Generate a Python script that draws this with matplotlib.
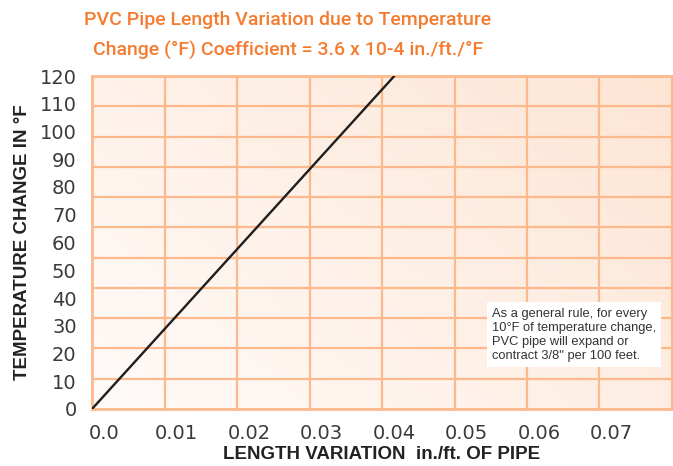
import numpy as np
import matplotlib
matplotlib.use("Agg")
import matplotlib.pyplot as plt
import matplotlib.transforms as mtransforms
from matplotlib.colors import LinearSegmentedColormap

# values
length_var = [0.0, 0.0417]     # in./ft.
temp_change = [0, 120]          # deg F
x_ticks = [0.0, 0.01, 0.02, 0.03, 0.04, 0.05, 0.06, 0.07]
x_labels = ["0.0", "0.01", "0.02", "0.03", "0.04", "0.05", "0.06", "0.07"]
y_ticks = list(range(0, 121, 10))

orange = "#F47C30"
grid_col = "#FDB88C"

fig = plt.figure(figsize=(6.73, 4.66), dpi=100)
ax = fig.add_axes([92/673, 1 - 409/466, 580/673, 333/466])
ax.set_xlim(0, 0.08)
ax.set_ylim(0, 120)

# peach gradient background, lighter bottom-left to darker top-right
cmap = LinearSegmentedColormap.from_list("peach", ["#FFFBF9", "#FDE5D4"])
gx, gy = np.meshgrid(np.linspace(0, 1, 200), np.linspace(0, 1, 200))
ax.imshow(0.6 * gx + 0.4 * gy, cmap=cmap, extent=[0, 0.08, 0, 120],
          origin="lower", aspect="auto", zorder=0)

# grid (11 rows, 8 columns as in the original)
for gxv in np.arange(0.01, 0.08, 0.01):
    ax.axvline(gxv, color=grid_col, lw=1.6, zorder=1)
for gyv in np.linspace(0, 120, 12)[1:-1]:
    ax.axhline(gyv, color=grid_col, lw=1.6, zorder=1)
for s in ax.spines.values():
    s.set_color(grid_col)
    s.set_linewidth(2)

ax.plot(length_var, temp_change, color="#1e1e1e", lw=1.7, zorder=3,
        solid_capstyle="round")

ax.set_xticks(x_ticks)
ax.set_xticklabels(x_labels)
ax.set_yticks(y_ticks)
ax.tick_params(length=0, labelsize=14, labelcolor="#3a3a3a")
ax.tick_params(axis="x", pad=11)
ax.tick_params(axis="y", pad=11)
off = mtransforms.ScaledTranslation(12/100, 0, fig.dpi_scale_trans)
for lab in ax.get_xticklabels():
    lab.set_transform(lab.get_transform() + off)

ax.set_xlabel("LENGTH VARIATION  in./ft. OF PIPE", fontsize=13.5,
              fontweight="bold", color="#222222", family="Liberation Sans",
              labelpad=2)
ax.set_ylabel("TEMPERATURE CHANGE IN °F", fontsize=13.5, fontweight="bold",
              color="#222222", family="Liberation Sans", labelpad=6)

ax.text(0.0552, 26.7, "As a general rule, for every\n10°F of temperature change,\n"
        "PVC pipe will expand or\ncontract 3/8\" per 100 feet.",
        fontsize=9.3, family="Liberation Sans", color="#333333",
        ha="left", va="center", linespacing=1.25, zorder=4,
        bbox=dict(boxstyle="square,pad=0.4", fc="white", ec="none"))

fig.text(288/673, 1 - 20/466, "PVC Pipe Length Variation due to Temperature",
         ha="center", va="center", fontsize=14, color=orange,
         family="Roboto", fontweight="medium")
fig.text(288/673, 1 - 50/466, "Change (°F) Coefficient = 3.6 x 10-4 in./ft./°F",
         ha="center", va="center", fontsize=14, color=orange,
         family="Roboto", fontweight="medium")

fig.savefig("out.png", dpi=100)
